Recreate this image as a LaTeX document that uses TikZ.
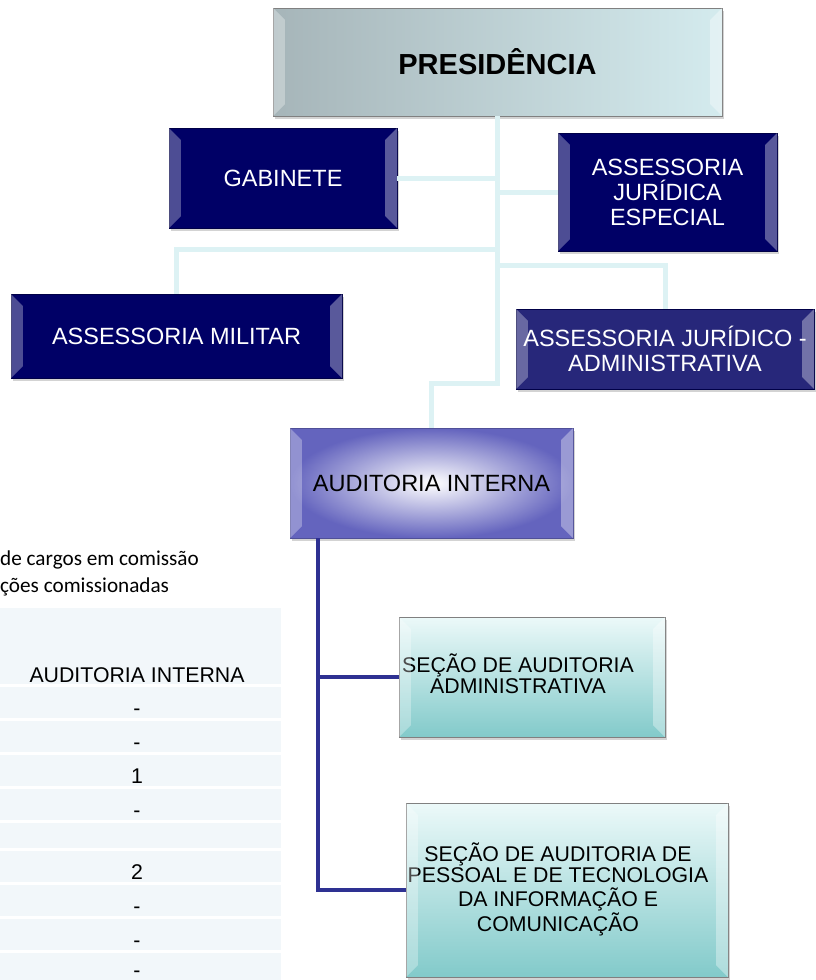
\documentclass[tikz,border=0pt]{standalone}
\usepackage{fontspec}
\setmainfont{Liberation Sans}
\newfontfamily\calibri{Carlito}
\usetikzlibrary{shadows}

\definecolor{navy}{HTML}{000066}
\definecolor{navylight}{HTML}{27277A}
\definecolor{presdark}{HTML}{A6B5B9}
\definecolor{preslight}{HTML}{D4EBEE}
\definecolor{audedge}{HTML}{6464BE}
\definecolor{sectop}{HTML}{ECF9F9}
\definecolor{secbot}{HTML}{82CACA}
\definecolor{linkcyan}{HTML}{DDF2F4}
\definecolor{linkblue}{HTML}{2E3192}
\definecolor{tablebg}{HTML}{F2F7FA}

\begin{document}
\begin{tikzpicture}[x=1pt, y=-1pt]
		\tikzstyle{orgbox}=[rectangle, inner sep=2pt, align=center, drop shadow={shadow xshift=2pt, shadow yshift=-3pt, opacity=.35}]
		\tikzstyle{darkbox}=[orgbox, draw=navy!70!black, fill=navy, text=white, font=\fontsize{23.5}{25}\selectfont]
		\tikzstyle{presbox}=[orgbox, draw=gray, left color=presdark, right color=preslight, font=\bfseries\fontsize{29}{30}\selectfont]
		\tikzstyle{audbox}=[orgbox, draw=audedge!80!black, inner color=white, outer color=audedge, font=\fontsize{23.5}{25}\selectfont]
		\tikzstyle{secbox}=[orgbox, draw=gray, top color=sectop, bottom color=secbot, font=\fontsize{21.3}{20}\selectfont]
		\tikzstyle{link}=[draw=linkcyan, line width=5pt]
		\tikzstyle{sublink}=[draw=linkblue, line width=4pt]
		\tikzstyle{caption}=[inner sep=0pt, font=\calibri\fontsize{21.2}{26}\selectfont]
		\tikzstyle{cell}=[inner sep=0pt, font=\fontsize{21.3}{22}\selectfont]
		\useasboundingbox (0,0) rectangle (816,980);
		% table on the left
		\node[caption, anchor=base west] (titlea) at (0,565) {de cargos em comissão};
		\node[caption, anchor=base west] (titleb) at (0,592) {ções comissionadas};
		\fill[tablebg] (0,608) rectangle (281,684);
		\node[cell, anchor=base] (head) at (137,682) {AUDITORIA INTERNA};
		\foreach \top/\bot/\val [count=\i] in {687/718/-, 721/752/-, 755/786/1, 789/820/-, 823/848/{}, 851/882/2, 885/916/-, 919/950/-, 953/980/-} {
			\fill[tablebg] (0,\top) rectangle (281,\bot);
			\node[cell, anchor=base] (row\i) at (137,{\bot-3}) {\val};
		}
		% boxes
		\node[presbox, minimum width=449pt, minimum height=108pt] (pres) at (497.5,62) {PRESIDÊNCIA};
		\node[darkbox, minimum width=228pt, minimum height=100pt] (gab) at (283,178) {GABINETE};
		\node[darkbox, minimum width=219pt, minimum height=118pt] (aje) at (667.5,192) {ASSESSORIA\\JURÍDICA\\ESPECIAL};
		\node[darkbox, minimum width=331pt, minimum height=84pt] (mil) at (176.5,336) {ASSESSORIA MILITAR};
		\node[darkbox, fill=navylight, minimum width=298pt, minimum height=80pt] (aja) at (665,349) {ASSESSORIA JURÍDICO -\\ADMINISTRATIVA};
		\node[audbox, minimum width=283pt, minimum height=110pt] (aud) at (431.5,483) {AUDITORIA INTERNA};
		\node[secbox, minimum width=266pt, minimum height=120pt] (sadm) at (532,677) {\hspace*{-28pt}\begin{tabular}{@{}c@{}}SEÇÃO DE AUDITORIA\\ADMINISTRATIVA\end{tabular}};
		\node[secbox, minimum width=322pt, minimum height=174pt] (spes) at (567,890) {\hspace*{-18pt}\begin{tabular}{@{}c@{}}SEÇÃO DE AUDITORIA DE\\PESSOAL E DE TECNOLOGIA\\DA INFORMAÇÃO E\\COMUNICAÇÃO\end{tabular}};
		% bevels
		\foreach \n in {pres,gab,aje,mil,aja,aud,sadm,spes} {
			\fill[white, opacity=.3] (\n.north west) -- ([shift={(12pt,-12pt)}]\n.north west) -- ([shift={(12pt,12pt)}]\n.south west) -- (\n.south west) -- cycle;
			\fill[white, opacity=.35] (\n.north east) -- ([shift={(-12pt,-12pt)}]\n.north east) -- ([shift={(-12pt,12pt)}]\n.south east) -- (\n.south east) -- cycle;
		}
		% connectors
		\draw[link] (pres.south) |- (gab.east);
		\draw[link] (pres.south) |- (aje.west);
		\draw[link] (pres.south) -- ++(0,133) -| (mil.north);
		\draw[link] (pres.south) -- ++(0,149) -| (aja.north);
		\draw[link] (pres.south) -- ++(0,267) -| (aud.north);
		\draw[sublink] ([xshift=28pt]aud.south west) |- (sadm.west);
		\draw[sublink] ([xshift=28pt]aud.south west) |- (spes.west);
\end{tikzpicture}
\end{document}
